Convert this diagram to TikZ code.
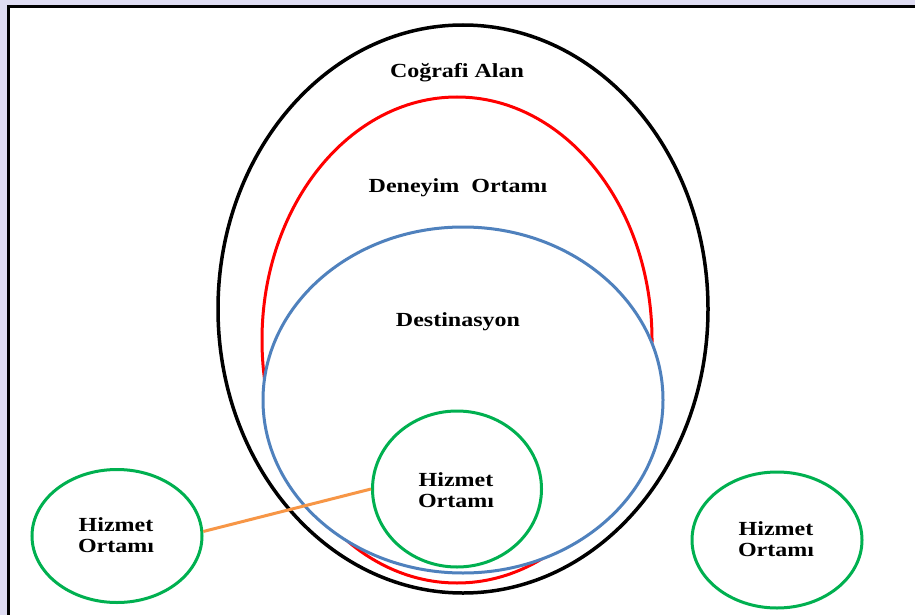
\documentclass[tikz,border=0pt]{standalone}
\usepackage{fontspec}
\setmainfont{Liberation Serif}
\usetikzlibrary{shapes.geometric}
\definecolor{wmark}{RGB}{222,220,242}
\definecolor{cred}{RGB}{255,0,0}
\definecolor{cblue}{RGB}{79,129,189}
\definecolor{cgreen}{RGB}{0,176,80}
\definecolor{corange}{RGB}{247,150,70}
\newcommand\widetxt[1]{\scalebox{1.2}[1]{#1}}
\begin{document}
\begin{tikzpicture}[x=1pt,y=-1pt,
  ring/.style={ellipse, draw, inner sep=0pt, line width=3pt},
  lbl/.style={font=\fontsize{20}{21.5}\selectfont\bfseries, align=center, inner sep=0pt, text=black}]
\useasboundingbox (0,0) rectangle (915,615);
\fill[wmark] (0,0) rectangle (915,615);
\fill[white] (8,7) rectangle (915,615);
\draw[line width=3pt] (8,615) -- (8,7) -- (915,7);
% rings
\node[ring, black, line width=3.5pt, minimum width=490pt, minimum height=568pt] (geo) at (463,309) {};
\node[ring, cred, minimum width=390pt, minimum height=486pt] (exp) at (457,340) {};
\node[ring, cblue, fill=white, minimum width=400pt, minimum height=346pt] (dest) at (463,400) {};
\node[lbl] (tgeo) at (457,73) {\widetxt{Coğrafi Alan}};
\node[lbl] (texp) at (458,188) {\widetxt{Deneyim\ \ Ortamı}};
\node[lbl] (tdest) at (458,322) {\widetxt{Destinasyon}};
\node[ring, cgreen, fill=white, minimum width=169pt, minimum height=156pt] (cg) at (457,489) {};
\node[lbl] (tcg) at (456,490) {\widetxt{Hizmet}\\\widetxt{Ortamı}};
\node[ring, cgreen, minimum width=170pt, minimum height=133pt] (lg) at (117,536) {};
\node[lbl] (tlg) at (116,535) {\widetxt{Hizmet}\\\widetxt{Ortamı}};
\node[ring, cgreen, minimum width=170pt, minimum height=136pt] (rg) at (777,540) {};
\node[lbl] (trg) at (776,539) {\widetxt{Hizmet}\\\widetxt{Ortamı}};
\draw[corange, line width=3pt] (lg.3) -- (cg.west);
\end{tikzpicture}
\end{document}
